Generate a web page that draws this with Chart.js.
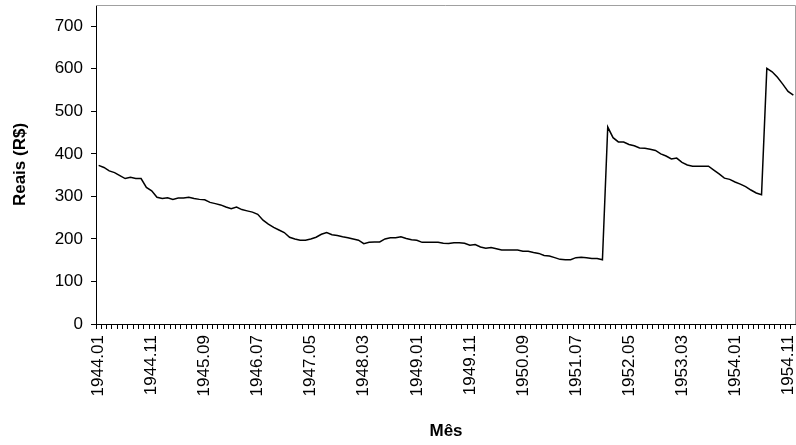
<!DOCTYPE html>
<html>
<head>
<meta charset="utf-8">
<script src="https://cdn.jsdelivr.net/npm/chart.js@4.4.1/dist/chart.umd.min.js"></script>
<style>
  html, body { margin: 0; padding: 0; background: #ffffff; }
  #wrap { width: 796px; height: 445px; position: relative; }
</style>
</head>
<body>
<div id="wrap"><canvas id="c" width="796" height="445"></canvas></div>
<script>
// Categories: months 1944.01 – 1954.12
const months = [
  "1944.01","1944.02","1944.03","1944.04","1944.05","1944.06","1944.07","1944.08","1944.09","1944.10","1944.11","1944.12",
  "1945.01","1945.02","1945.03","1945.04","1945.05","1945.06","1945.07","1945.08","1945.09","1945.10","1945.11","1945.12",
  "1946.01","1946.02","1946.03","1946.04","1946.05","1946.06","1946.07","1946.08","1946.09","1946.10","1946.11","1946.12",
  "1947.01","1947.02","1947.03","1947.04","1947.05","1947.06","1947.07","1947.08","1947.09","1947.10","1947.11","1947.12",
  "1948.01","1948.02","1948.03","1948.04","1948.05","1948.06","1948.07","1948.08","1948.09","1948.10","1948.11","1948.12",
  "1949.01","1949.02","1949.03","1949.04","1949.05","1949.06","1949.07","1949.08","1949.09","1949.10","1949.11","1949.12",
  "1950.01","1950.02","1950.03","1950.04","1950.05","1950.06","1950.07","1950.08","1950.09","1950.10","1950.11","1950.12",
  "1951.01","1951.02","1951.03","1951.04","1951.05","1951.06","1951.07","1951.08","1951.09","1951.10","1951.11","1951.12",
  "1952.01","1952.02","1952.03","1952.04","1952.05","1952.06","1952.07","1952.08","1952.09","1952.10","1952.11","1952.12",
  "1953.01","1953.02","1953.03","1953.04","1953.05","1953.06","1953.07","1953.08","1953.09","1953.10","1953.11","1953.12",
  "1954.01","1954.02","1954.03","1954.04","1954.05","1954.06","1954.07","1954.08","1954.09","1954.10","1954.11","1954.12"
];

// Series values (R$)
const reais = [
  373, 368, 360, 356, 349, 342, 345, 342, 342, 321,
  313, 298, 295, 297, 293, 296, 296, 298, 295, 293,
  292, 286, 283, 280, 275, 271, 275, 269, 266, 263,
  258, 244, 235, 227, 221, 215, 204, 200, 197, 197,
  200, 204, 211, 215, 210, 208, 205, 203, 200, 197,
  189, 192, 193, 193, 200, 203, 203, 205, 201, 198,
  197, 192, 192, 192, 192, 190, 189, 191, 191, 190,
  185, 187, 181, 178, 180, 177, 174, 174, 174, 174,
  171, 171, 168, 166, 161, 160, 156, 152, 151, 151,
  156, 157, 156, 154, 154, 151, 463, 438, 428, 428,
  422, 419, 414, 413, 411, 408, 400, 395, 388, 390,
  380, 374, 371, 371, 371, 371, 362, 353, 343, 340,
  334, 329, 323, 315, 308, 304, 601, 593, 580, 564,
  547, 538
];

// Y tick labels
const yTicks = [0, 100, 200, 300, 400, 500, 600, 700];
const yMax = 750;
const labelEvery = 10;

const FONT = "'Liberation Sans', Arial, Helvetica, sans-serif";

const frame = {
  id: 'frame',
  afterDraw(chart) {
    const {ctx, chartArea: a} = chart;
    ctx.save();
    ctx.strokeStyle = '#a0a0a0';
    ctx.lineWidth = 1;
    ctx.beginPath();
    ctx.moveTo(a.left, a.top + 0.5);
    ctx.lineTo(a.right - 0.5, a.top + 0.5);
    ctx.lineTo(a.right - 0.5, a.bottom);
    ctx.stroke();
    ctx.restore();
  }
};

new Chart(document.getElementById('c'), {
  type: 'line',
  data: {
    labels: months,
    datasets: [{
      data: reais,
      borderColor: '#000000',
      borderWidth: 1.5,
      pointRadius: 0,
      tension: 0,
      fill: false
    }]
  },
  options: {
    responsive: false,
    animation: false,
    devicePixelRatio: 1,
    layout: { padding: { top: 5, left: 0, right: 0, bottom: 0 } },
    plugins: { legend: { display: false }, tooltip: { enabled: false } },
    scales: {
      x: {
        type: 'category',
        offset: true,
        grid: { display: true, offset: true, drawOnChartArea: false, drawTicks: true, tickLength: 5, color: '#000000', lineWidth: 1 },
        border: { display: true, color: '#000000', width: 1 },
        ticks: {
          autoSkip: false,
          maxRotation: 90,
          minRotation: 90,
          padding: 6,
          color: '#000000',
          font: { family: FONT, size: 17 },
          callback: function(v, i) { return i % labelEvery === 0 ? this.getLabelForValue(v) : ''; }
        },
        title: { display: true, text: 'Mês', color: '#000000', font: { family: FONT, size: 17, weight: 'bold' }, padding: { top: 0, bottom: 3 } },
        afterFit(s) { s.height = 121; s.paddingLeft = 0; s.paddingRight = 0; }
      },
      y: {
        min: 0,
        max: yMax,
        grid: { display: true, drawOnChartArea: false, drawTicks: true, tickLength: 5, color: '#000000', lineWidth: 1 },
        border: { display: true, color: '#000000', width: 1 },
        afterBuildTicks(s) { s.ticks = yTicks.map(v => ({ value: v })); },
        ticks: {
          padding: 8,
          color: '#000000',
          font: { family: FONT, size: 17 }
        },
        title: { display: true, text: 'Reais (R$)', color: '#000000', font: { family: FONT, size: 17, weight: 'bold' }, padding: { top: 10, bottom: 0 } },
        afterFit(s) { s.width = 96; s.paddingTop = 0; s.paddingBottom = 0; }
      }
    }
  },
  plugins: [frame]
});
</script>
</body>
</html>
